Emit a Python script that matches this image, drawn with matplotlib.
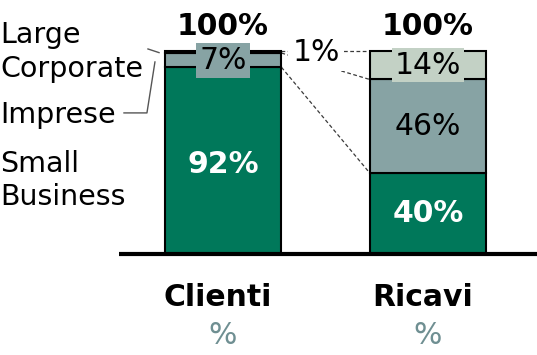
import matplotlib.pyplot as plt

plt.rcParams['font.family'] = ['DejaVu Sans']

# stacked shares, bottom to top: Small Business, Imprese, Large Corporate
categories = ["Clienti", "Ricavi"]
small_business = [92, 40]
imprese = [7, 46]
large_corporate = [1, 14]
totals = [100, 100]
segment_names = ["Small\nBusiness", "Imprese", "Large\nCorporate"]

GREEN = "#00785A"
GREY = "#87A3A4"
LIGHT = "#C3D1C5"


def main():
    fig = plt.figure(figsize=(5.37, 3.55), dpi=100)
    ax = fig.add_axes([0, 0, 1, 1])
    ax.set_xlim(-223 / 205, 1 + 109 / 205)
    ax.set_ylim(-101 / 2.03, 254 / 2.03)
    ax.axis("off")

    x = [0, 1]
    width = 0.57
    fs = 21.5
    fs_names = 20.5

    ax.bar(x, small_business, width, color=GREEN, edgecolor="black", linewidth=1.5, zorder=3)
    ax.bar(x, imprese, width, bottom=small_business, color=GREY, edgecolor="black", linewidth=1.5, zorder=3)
    bottom2 = [a + b for a, b in zip(small_business, imprese)]
    top_colors = ["black", LIGHT]
    ax.bar(x, large_corporate, width, bottom=bottom2, color=top_colors, edgecolor="black", linewidth=1.5, zorder=3)

    # baseline
    ax.plot([-0.507, 1.6], [0, 0], color="black", linewidth=3, solid_capstyle="butt", zorder=4)

    # dashed connectors between matching segment boundaries
    left_b = [small_business[0], bottom2[0], totals[0]]
    right_b = [small_business[1], bottom2[1], totals[1]]
    for yl, yr in zip(left_b, right_b):
        ax.plot([x[0] + width / 2, x[1] - width / 2], [yl, yr], color="#3a3a3a",
                linestyle=(0, (3, 2)), linewidth=0.9, zorder=1)

    # value labels
    ax.text(x[0], small_business[0] / 2 - 2, f"{small_business[0]}%", ha="center", va="center",
            fontsize=fs, color="white", fontweight="bold", zorder=5)
    ax.text(x[1], small_business[1] / 2, f"{small_business[1]}%", ha="center", va="center",
            fontsize=fs, color="white", fontweight="bold", zorder=5)
    ax.text(x[1], small_business[1] + imprese[1] / 2, f"{imprese[1]}%", ha="center", va="center",
            fontsize=fs, color="black", zorder=5)
    ax.text(x[0], small_business[0] + imprese[0] / 2, f"{imprese[0]}%", ha="center", va="center",
            fontsize=fs, color="black", zorder=5,
            bbox=dict(boxstyle="square,pad=0.1", facecolor=GREY, edgecolor="none"))
    ax.text(x[1], bottom2[1] + large_corporate[1] / 2, f"{large_corporate[1]}%", ha="center", va="center",
            fontsize=fs, color="black", zorder=5,
            bbox=dict(boxstyle="square,pad=0.08", facecolor=LIGHT, edgecolor="none"))
    ax.text(0.454, bottom2[0] + large_corporate[0] / 2, f"{large_corporate[0]}%", ha="center", va="center",
            fontsize=fs, color="black", zorder=5,
            bbox=dict(boxstyle="square,pad=0.15", facecolor="white", edgecolor="none"))

    for xi, t in zip(x, totals):
        ax.text(xi, t + 12, f"{t}%", ha="center", va="center", fontsize=fs,
                fontweight="bold", color="black")
        ax.text(xi - 0.025, -21.5, categories[xi], ha="center", va="center", fontsize=fs,
                fontweight="bold", color="black")
        ax.text(xi, -40, "%", ha="center", va="center", fontsize=fs, color="#6F8F92")

    # segment names on the left
    x_name = -223 / 205 + 0.001
    ax.text(x_name, 36.2, segment_names[0], ha="left", va="center", fontsize=fs_names,
            linespacing=1.27)
    ax.text(x_name, 68.5, segment_names[1], ha="left", va="center", fontsize=fs_names)
    ax.text(x_name, 99.5, segment_names[2], ha="left", va="center", fontsize=fs_names,
            linespacing=1.27)

    # leader lines
    ax.plot([-0.366, -0.312], [101, 99.2], color="#555555", linewidth=1, zorder=2)
    ax.plot([-0.483, -0.371, -0.332], [69.5, 69.5, 94.6], color="#555555", linewidth=1, zorder=2)

    fig.savefig("out.png", dpi=100)
    plt.close(fig)


if __name__ == "__main__":
    main()
